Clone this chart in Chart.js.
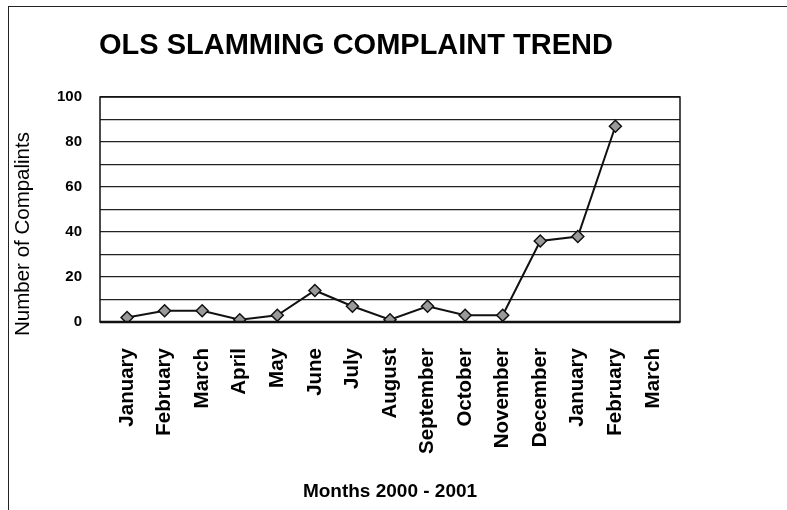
<!DOCTYPE html>
<html>
<head>
<meta charset="utf-8">
<script src="https://cdn.jsdelivr.net/npm/chart.js@4/dist/chart.umd.min.js"></script>
<style>
  html, body { margin: 0; padding: 0; background: #fff; }
  #frame { position: absolute; left: 8px; top: 6px; width: 787px; height: 510px;
           border-left: 1.5px solid #222; border-top: 1.5px solid #222; }
  canvas { position: absolute; left: 0; top: 0; }
</style>
</head>
<body>
<div id="frame"></div>
<canvas id="chart" width="787" height="510"></canvas>
<script>
const months = ['January', 'February', 'March', 'April', 'May', 'June', 'July', 'August',
  'September', 'October', 'November', 'December', 'January', 'February', 'March'];
const complaints = [2, 5, 5, 1, 3, 14, 7, 1, 7, 3, 3, 36, 38, 87, null];
const yTicksShown = [0, 20, 40, 60, 80, 100];
const chartTitle = 'OLS SLAMMING COMPLAINT TREND';
const yTitle = 'Number of Compalints';

const font = 'Arial, "Liberation Sans", sans-serif';

// months sit on a numeric axis so the side margins can be wider than half a slot
const points = complaints.map((v, i) => ({ x: i, y: v }));
const edge = 0.72;

// plot box, main title and the y title (placed off-centre, as in the original)
const decorations = {
  id: 'decorations',
  afterDraw(chart) {
    const { ctx, chartArea: a } = chart;
    ctx.save();
    ctx.strokeStyle = '#111';
    ctx.lineWidth = 1.5;
    ctx.strokeRect(a.left, a.top, a.right - a.left, a.bottom - a.top);
    ctx.beginPath();
    ctx.lineWidth = 2.5;
    ctx.moveTo(a.left, a.bottom);
    ctx.lineTo(a.right, a.bottom);
    ctx.stroke();

    ctx.fillStyle = '#000';
    ctx.textAlign = 'center';
    ctx.textBaseline = 'alphabetic';
    ctx.font = 'bold 29px ' + font;
    ctx.fillText(chartTitle, 356, 54);

    ctx.translate(29, 234);
    ctx.rotate(-Math.PI / 2);
    ctx.font = '20.5px ' + font;
    ctx.fillText(yTitle, 0, 0);
    ctx.restore();
  }
};

new Chart(document.getElementById('chart'), {
  type: 'line',
  data: {
    datasets: [{
      data: points,
      borderColor: '#111',
      borderWidth: 2,
      pointStyle: 'rectRot',
      pointRadius: 6,
      pointBackgroundColor: '#9a9a9a',
      pointBorderColor: '#111',
      pointBorderWidth: 1.5,
      tension: 0,
      spanGaps: false
    }]
  },
  options: {
    responsive: false,
    animation: false,
    layout: { padding: { left: 8, right: 107, top: 97, bottom: 6 } },
    plugins: {
      legend: { display: false },
      tooltip: { enabled: false },
      title: { display: false }
    },
    scales: {
      x: {
        type: 'linear',
        min: -edge,
        max: months.length - 1 + edge,
        grid: { display: false, drawTicks: false },
        border: { display: false },
        ticks: {
          stepSize: 1,
          includeBounds: false,
          color: '#000',
          autoSkip: false,
          minRotation: 90,
          maxRotation: 90,
          padding: 26,
          font: { family: font, size: 20.5, weight: 'bold' },
          callback: v => months[v] ?? ''
        },
        title: {
          display: true,
          text: 'Months 2000 - 2001',
          color: '#000',
          font: { family: font, size: 19, weight: 'bold' },
          padding: { top: 0, bottom: 1 }
        },
        afterFit(scale) { scale.height = 182; }
      },
      y: {
        min: 0,
        max: 100,
        grid: { color: '#222', lineWidth: 1.2, drawTicks: false },
        border: { display: false },
        ticks: {
          stepSize: 10,
          color: '#000',
          padding: 18,
          font: { family: font, size: 15, weight: 'bold' },
          callback: v => yTicksShown.includes(v) ? v : ''
        },
        afterFit(scale) { scale.width = 92; }
      }
    }
  },
  plugins: [decorations]
});
</script>
</body>
</html>
